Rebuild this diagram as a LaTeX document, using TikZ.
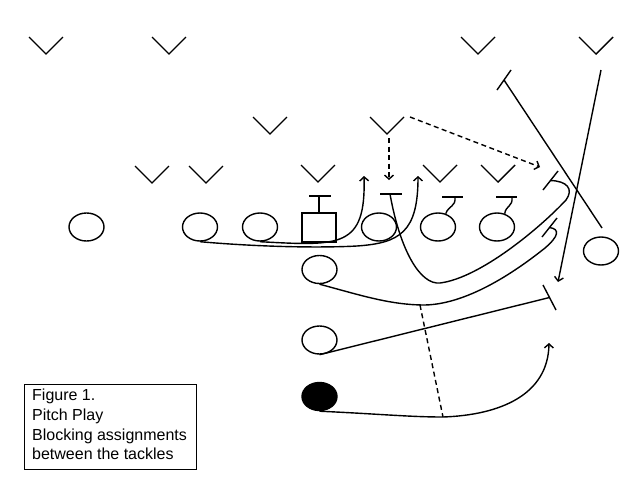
\documentclass[tikz,border=0pt]{standalone}
\usepackage{fontspec}
\setmainfont{Liberation Sans}
\usetikzlibrary{shapes.geometric,arrows.meta}
\newcommand\defV[3]{\coordinate (#1) at (#2,#3);
  \draw[ln] (#1) ++(-17,-17) -- (#1) -- ++(17,-17);}
\begin{document}
\begin{tikzpicture}[x=1pt,y=-1pt,
  ln/.style={line width=1.4pt},
  player/.style={ellipse,draw,line width=1.4pt,minimum width=35pt,minimum height=28pt,inner sep=0pt},
  ctr/.style={rectangle,draw,line width=1.4pt,minimum width=34pt,minimum height=29pt,inner sep=0pt},
  carrier/.style={player,fill=black},
  arr/.style={ln,-{Straight Barb[length=4pt,width=9pt]}},
  dsh/.style={ln,dash pattern=on 5pt off 3.5pt},
  txt/.style={font=\fontsize{16}{19.7}\selectfont,align=left,inner sep=0pt}]
\useasboundingbox (0,0) rectangle (640,480);
% defenders
\defV{v1}{46}{54}
\defV{v2}{169}{54}
\defV{v10}{478}{54}
\defV{v11}{596}{54}
\defV{v3}{270}{134}
\defV{v7}{387}{134}
\defV{v4}{152}{183}
\defV{v5}{206}{183}
\defV{v6}{318}{182}
\defV{v8}{440}{182}
\defV{v9}{498}{182}
% offense
\node[player] (o1) at (86.5,227) {};
\node[player] (o2) at (200,227) {};
\node[player] (o3) at (260,227) {};
\node[ctr] (c) at (319,227.5) {};
\node[player] (o4) at (379,227) {};
\node[player] (o5) at (438,227) {};
\node[player] (o6) at (497,227) {};
\node[player] (te) at (601,251) {};
\node[player] (fb) at (319.5,269.5) {};
\node[player] (hb) at (319.5,340) {};
\node[carrier] (bc) at (319.5,396.5) {};
% block marks
\coordinate (cT) at (319,196);
\draw[ln] (c.north) -- (cT);
\draw[ln] (309,196) -- (331,196);
\coordinate (gT) at (390,194);
\draw[ln] (380,194) -- (402,194);
\coordinate (h5) at (455,197);
\draw[ln] (442,197) -- (463,197);
\draw[ln] (h5) .. controls (456,207) and (449,205) .. (o5.60);
\coordinate (h6) at (512,197);
\draw[ln] (496,197) -- (517,197);
\draw[ln] (h6) .. controls (513,207) and (506,205) .. (o6.60);
% pulling linemen
\draw[arr] (o3.south) .. controls (340,246) and (366,248) .. (364,176);
\draw[arr] (o2.south) .. controls (260,247) and (320,248) .. (357,246)
  .. controls (400,243) and (418,232) .. (418,176);
% guard/tackle path with hook block
\coordinate (bA) at (550.5,180.5);
\draw[ln] (543,190) -- (558,171);
\draw[ln] (gT) .. controls (400,250) and (420,285) .. (440,283)
  .. controls (480,278) and (540,228) .. (566,200)
  .. controls (574,189) and (567,181) .. (bA);
% fullback path with hook block
\coordinate (bB) at (549.5,227.5);
\draw[ln] (542,237) -- (557,218);
\draw[ln] (fb.south) .. controls (360,295) and (390,305) .. (425,305)
  .. controls (470,304) and (520,268) .. (545,248)
  .. controls (559,236) and (560,229) .. (bB);
% halfback straight block
\coordinate (bC) at (549.5,297.5);
\draw[ln] (543,285) -- (556,310);
\draw[ln] (hb.south) -- (bC);
% ball carrier
\coordinate (dB) at (443,417);
\draw[arr] (bc.south) .. controls (380,414) and (410,417) .. (dB)
  .. controls (500,415) and (548,395) .. (549,343);
\coordinate (dA) at (420,305);
\draw[dsh] (dA) -- (dB);
% tight end block on defender
\coordinate (teS) at (602,228);
\coordinate (bD) at (504,80);
\draw[ln] (497,90) -- (511,70);
\draw[ln] (teS) -- (bD);
% safety
\coordinate (s1) at (601,70);
\coordinate (s2) at (558,282);
\draw[arr] (s1) -- (s2);
% linebacker reads
\coordinate (lb1) at (410,117);
\coordinate (lb2) at (540,167);
\draw[dsh,-{Straight Barb[length=4pt,width=9pt]}] (lb1) -- (lb2);
\coordinate (lb3) at (389,138);
\coordinate (lb4) at (389,180);
\draw[dsh,-{Straight Barb[length=4pt,width=9pt]}] (lb3) -- (lb4);
% caption
\node[draw,line width=1.2pt,anchor=north west,minimum width=172pt,minimum height=85pt,inner sep=0pt] (box) at (24,384) {};
\node[txt,anchor=north west] (cap) at (32,389) {Figure 1.\\Pitch Play\\Blocking assignments\\between the tackles};
\end{tikzpicture}
\end{document}
